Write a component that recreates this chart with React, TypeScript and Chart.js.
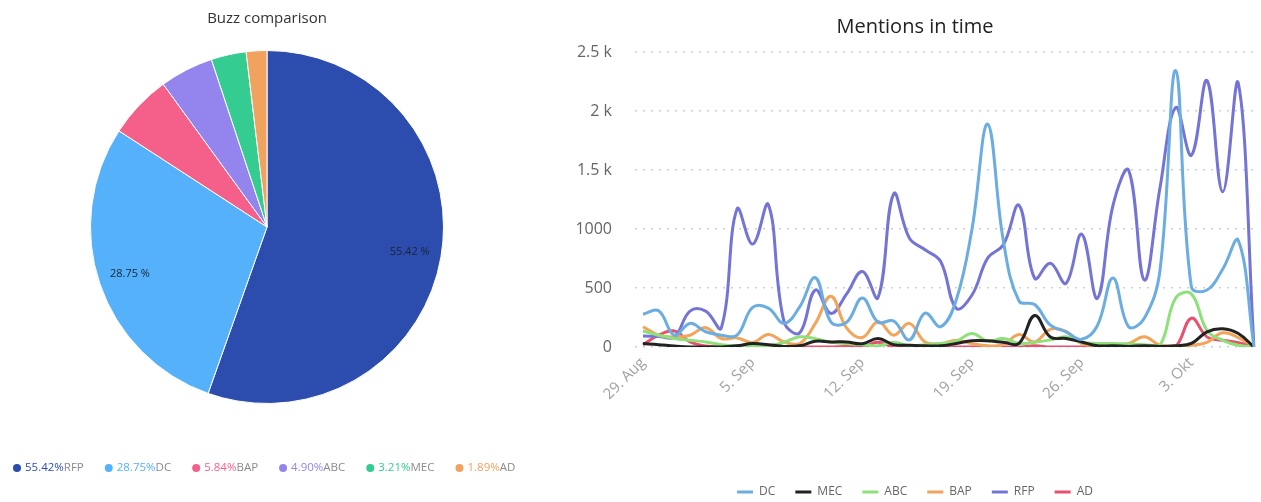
import React, { useEffect, useRef } from 'react';
import { Chart, registerables } from 'chart.js';
Chart.register(...registerables);

// ---- Pie data ----
const pieLabels = ['RFP', 'DC', 'BAP', 'ABC', 'MEC', 'AD'];
const pieValues = [55.42, 28.75, 5.84, 4.9, 3.21, 1.89];
const pieColors = ['#2C4DAE', '#55B1FA', '#F5608A', '#9485EE', '#34CC90', '#F0A35E'];

// ---- Line data ----
const days = [
  '29. Aug', '30. Aug', '31. Aug', '1. Sep', '2. Sep', '3. Sep', '4. Sep', '5. Sep',
  '6. Sep', '7. Sep', '8. Sep', '9. Sep', '10. Sep', '11. Sep', '12. Sep', '13. Sep',
  '14. Sep', '15. Sep', '16. Sep', '17. Sep', '18. Sep', '19. Sep', '20. Sep', '21. Sep',
  '22. Sep', '23. Sep', '24. Sep', '25. Sep', '26. Sep', '27. Sep', '28. Sep', '29. Sep',
  '30. Sep', '1. Okt', '2. Okt', '3. Okt', '4. Okt', '5. Okt', '6. Okt', '7. Okt',
];
const tickDays = ['29. Aug', '5. Sep', '12. Sep', '19. Sep', '26. Sep', '3. Okt'];
const yTicks = [0, 500, 1000, 1500, 2000, 2500];

const seriesNames = ['DC', 'MEC', 'ABC', 'BAP', 'RFP', 'AD'];
const seriesColors = ['#6BADE0', '#222222', '#8DE07A', '#F2A45A', '#7474D6', '#E8506E'];

const dc = [278, 307, 100, 200, 129, 100, 100, 336, 330, 200, 340, 588, 210, 210, 416, 210, 220, 60, 287, 172, 400, 1000, 1889, 900, 390, 360, 185, 129, 65, 180, 585, 172, 244, 650, 2343, 511, 483, 659, 903, 0];
const mec = [29, 20, 8, 0, 0, 0, 10, 29, 20, 5, 10, 49, 43, 43, 28, 72, 20, 15, 10, 10, 30, 52, 52, 40, 30, 267, 85, 72, 43, 10, 10, 5, 10, 5, 10, 30, 129, 155, 115, 0];
const abc = [135, 100, 72, 57, 43, 20, 10, 10, 10, 40, 86, 70, 40, 30, 20, 10, 40, 10, 20, 30, 50, 115, 50, 72, 30, 40, 60, 86, 40, 30, 30, 25, 20, 15, 416, 450, 140, 57, 15, 0];
const bap = [172, 100, 85, 100, 164, 72, 77, 37, 106, 43, 29, 200, 430, 160, 80, 215, 100, 200, 43, 29, 57, 28, 10, 20, 105, 43, 150, 133, 28, 15, 15, 30, 86, 15, 10, 15, 40, 120, 80, 0];
const rfp = [94, 90, 85, 304, 304, 162, 1170, 872, 1207, 215, 120, 483, 284, 450, 640, 418, 1298, 923, 824, 724, 327, 440, 753, 866, 1201, 582, 710, 540, 957, 412, 1200, 1497, 568, 1350, 2030, 1624, 2258, 1315, 2235, 0];
const ad = [20, 100, 135, 43, 8, 0, 0, 5, 10, 0, 0, 0, 0, 5, 0, 40, 0, 0, 0, 0, 0, 0, 5, 0, 0, 10, 0, 0, 0, 0, 0, 0, 0, 0, 5, 244, 86, 57, 37, 0];
const seriesData = [dc, mec, abc, bap, rfp, ad];

const FONT = '"Open Sans", "DejaVu Sans", sans-serif';

const sliceLabelPlugin = {
  id: 'sliceLabels',
  afterDatasetsDraw(chart: any) {
    const ctx = chart.ctx;
    const meta = chart.getDatasetMeta(0);
    ctx.save();
    ctx.font = `11px ${FONT}`;
    ctx.fillStyle = '#1b2437';
    ctx.textAlign = 'center';
    ctx.textBaseline = 'middle';
    meta.data.forEach((arc: any, i: number) => {
      if (pieValues[i] < 10) return;
      const p = arc.getProps(['startAngle', 'endAngle', 'outerRadius', 'x', 'y'], true);
      const mid = (p.startAngle + p.endAngle) / 2;
      const r = p.outerRadius * 0.82;
      ctx.fillText(`${pieValues[i].toFixed(2)} %`, p.x + Math.cos(mid) * r, p.y + Math.sin(mid) * r);
    });
    ctx.restore();
  },
};

const pieLegendPlugin = {
  id: 'pieLegend',
  afterDraw(chart: any) {
    const ctx = chart.ctx;
    ctx.save();
    ctx.font = `11.5px ${FONT}`;
    ctx.textBaseline = 'middle';
    ctx.textAlign = 'left';
    let x = 12;
    const y = 468;
    pieLabels.forEach((name, i) => {
      const pct = pieValues[i].toFixed(2) + '%';
      ctx.fillStyle = pieColors[i];
      ctx.beginPath();
      ctx.arc(x + 5, y, 4, 0, Math.PI * 2);
      ctx.fill();
      let tx = x + 13;
      ctx.fillText(pct, tx, y);
      tx += ctx.measureText(pct).width;
      ctx.fillStyle = '#8a8a8a';
      ctx.fillText(name, tx, y);
      tx += ctx.measureText(name).width;
      x = tx + 20;
    });
    ctx.restore();
  },
};

export default function App() {
  const pieRef = useRef<HTMLCanvasElement>(null);
  const lineRef = useRef<HTMLCanvasElement>(null);

  useEffect(() => {
    const pie = new Chart(pieRef.current as HTMLCanvasElement, {
      type: 'pie',
      data: {
        labels: pieLabels,
        datasets: [
          {
            data: pieValues,
            backgroundColor: pieColors,
            borderColor: '#ffffff',
            borderWidth: 1,
          },
        ],
      },
      options: {
        responsive: false,
        animation: false,
        layout: { padding: { top: 0, bottom: 98, left: 0, right: 0 } },
        plugins: {
          legend: { display: false },
          tooltip: { enabled: false },
          title: {
            display: true,
            text: 'Buzz comparison',
            color: '#333333',
            font: { family: FONT, size: 15, weight: 'normal' },
            padding: { top: 10, bottom: 22 },
          },
        },
      },
      plugins: [sliceLabelPlugin, pieLegendPlugin],
    } as any);

    const line = new Chart(lineRef.current as HTMLCanvasElement, {
      type: 'line',
      data: {
        labels: days,
        datasets: seriesNames.map((name, i) => ({
          label: name,
          data: seriesData[i],
          borderColor: seriesColors[i],
          backgroundColor: seriesColors[i],
          borderWidth: 3,
          pointRadius: 0,
          tension: 0.4,
          fill: false,
        })),
      },
      options: {
        responsive: false,
        animation: false,
        layout: { padding: { left: 6, right: 7, top: 0, bottom: 0 } },
        plugins: {
          tooltip: { enabled: false },
          title: {
            display: true,
            text: 'Mentions in time',
            color: '#222222',
            font: { family: FONT, size: 20, weight: 'normal' },
            padding: { top: 15, bottom: 13 },
          },
          legend: {
            position: 'bottom',
            labels: {
              usePointStyle: true,
              pointStyle: 'line',
              pointStyleWidth: 16,
              boxHeight: 12,
              padding: 20,
              color: '#666666',
              font: { family: FONT, size: 12 },
            },
          },
        },
        scales: {
          x: {
            grid: { display: false, drawTicks: false },
            border: { display: false },
            afterFit: (scale: any) => {
              scale.height = 119;
            },
            ticks: {
              autoSkip: false,
              minRotation: 45,
              maxRotation: 45,
              padding: 7,
              color: '#a0a0a0',
              font: { family: FONT, size: 15 },
              callback: (_v: any, idx: number) => (tickDays.includes(days[idx]) ? days[idx] : null),
            },
          },
          y: {
            min: yTicks[0],
            max: yTicks[yTicks.length - 1],
            afterFit: (scale: any) => {
              scale.width = 67;
            },
            afterBuildTicks: (scale: any) => {
              scale.ticks = yTicks.map((v) => ({ value: v }));
            },
            grid: {
              color: '#cfcfcf',
              lineWidth: 1.5,
              drawTicks: true,
              tickLength: 8,
              tickBorderDash: [2, 6],
              tickColor: '#cfcfcf',
            },
            border: { display: false, dash: [2, 6] },
            ticks: {
              padding: 23,
              color: '#666666',
              font: { family: FONT, size: 16 },
              callback: (v: any) => (v === 0 ? '0' : v < 1500 ? String(v) : v / 1000 + ' k'),
            },
          },
        },
      },
    } as any);

    return () => {
      pie.destroy();
      line.destroy();
    };
  }, []);

  return (
    <div
      style={{
        position: 'fixed',
        left: 0,
        top: 0,
        width: 1261,
        height: 502,
        overflow: 'hidden',
        background: '#ffffff',
      }}
    >
      <div style={{ position: 'absolute', left: 0, top: 0, width: 515, height: 502, overflow: 'hidden' }}>
        <canvas ref={pieRef} width={534} height={502} style={{ width: 534, height: 502, display: 'block' }} />
      </div>
      <div style={{ position: 'absolute', left: 570, top: 0, width: 691, height: 508 }}>
        <canvas ref={lineRef} width={691} height={508} style={{ width: 691, height: 508, display: 'block' }} />
      </div>
    </div>
  );
}
